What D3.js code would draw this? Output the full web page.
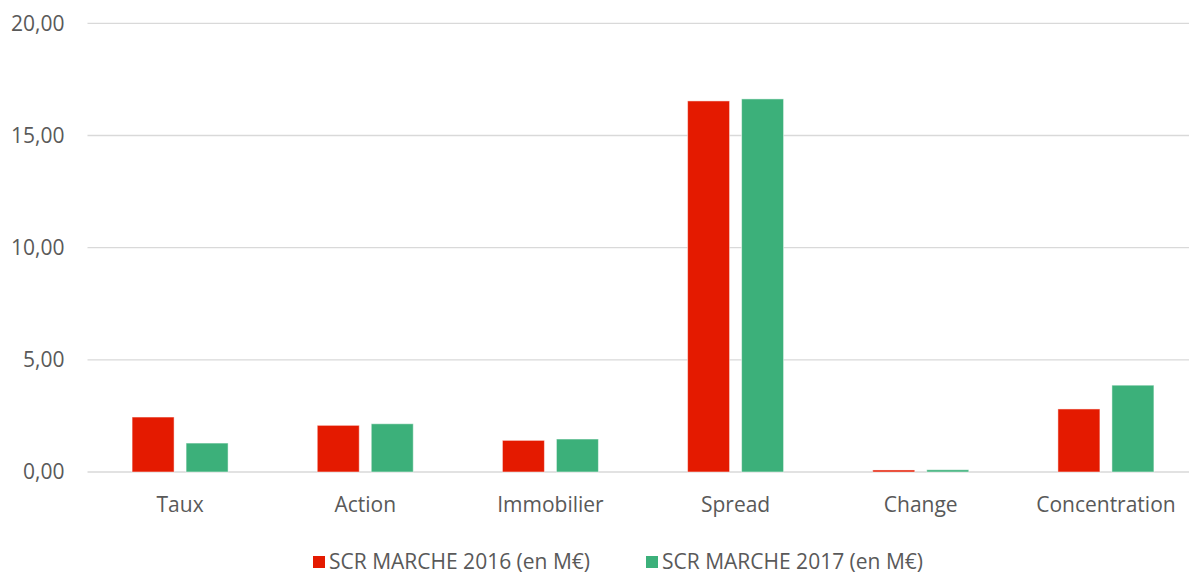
<!DOCTYPE html>
<html>
<head>
<meta charset="utf-8">
<script src="https://cdn.jsdelivr.net/npm/d3@7"></script>
<style>
  body { margin: 0; background: #fff; }
  text { font-family: "Open Sans", "Noto Sans", sans-serif; fill: #595959; }
</style>
</head>
<body>
<div id="chart"></div>
<script>
// SCR marché par sous-module

var categories = ["Taux", "Action", "Immobilier", "Spread", "Change", "Concentration"];
var series = ["SCR MARCHE 2016 (en M€)", "SCR MARCHE 2017 (en M€)"];
var values2016 = [2.45, 2.08, 1.41, 16.54, 0.09, 2.81];
var values2017 = [1.29, 2.15, 1.47, 16.63, 0.10, 3.87];
var yTicks = [0, 5, 10, 15, 20];
var colors = ["#E41A00", "#3CB07A"];

var width = 1189, height = 574;
var margin = { left: 87.5, right: -9.5, top: 23.3, bottom: 102 };

var svg = d3.select("#chart")
    .append("svg")
    .attr("width", width)
    .attr("height", height);

var innerW = width - margin.left - margin.right,
    innerH = height - margin.top - margin.bottom;

var xScale = d3.scaleBand()
    .domain(categories)
    .range([0, innerW]);

var yScale = d3.scaleLinear()
    .domain([0, 20])
    .range([innerH, 0]);

var g = svg.append("g")
    .attr("transform", "translate(" + margin.left + "," + margin.top + ")");

// gridlines
g.selectAll(".grid")
    .data(yTicks)
    .enter().append("line")
    .attr("x1", 0)
    .attr("x2", innerW)
    .attr("y1", function (d) { return yScale(d); })
    .attr("y2", function (d) { return yScale(d); })
    .attr("stroke", "#d9d9d9")
    .attr("stroke-width", 1.3);

// y labels
g.selectAll(".ylab")
    .data(yTicks)
    .enter().append("text")
    .attr("x", -23)
    .attr("y", function (d) { return yScale(d); })
    .attr("dy", "0.35em")
    .attr("text-anchor", "end")
    .style("font-size", "21px")
    .text(function (d) { return d3.format(".2f")(d).replace(".", ","); });

// bars
var barW = 42, gap = 12;
var allSeries = [values2016, values2017];
allSeries.forEach(function (vals, si) {
    g.selectAll(".bar" + si)
        .data(vals)
        .enter().append("rect")
        .attr("x", function (d, i) {
            var c = xScale(categories[i]) + xScale.bandwidth() / 2;
            return si === 0 ? c - gap / 2 - barW : c + gap / 2;
        })
        .attr("y", function (d) { return yScale(d); })
        .attr("width", barW)
        .attr("height", function (d) { return innerH - yScale(d); })
        .attr("fill", colors[si])
        .attr("stroke", "#ffffff")
        .attr("stroke-opacity", 0.5)
        .attr("stroke-width", 1);
});

// category labels
g.selectAll(".xlab")
    .data(categories)
    .enter().append("text")
    .attr("x", function (d) { return xScale(d) + xScale.bandwidth() / 2; })
    .attr("y", innerH + 40)
    .attr("text-anchor", "middle")
    .style("font-size", "21px")
    .text(function (d) { return d; });

// legend
var legendX = [313, 646];
var legend = svg.selectAll(".legend")
    .data(series)
    .enter().append("g")
    .attr("transform", function (d, i) { return "translate(" + legendX[i] + ",556)"; });

legend.append("rect")
    .attr("width", 12)
    .attr("height", 12)
    .attr("fill", function (d, i) { return colors[i]; });

legend.append("text")
    .attr("x", 16)
    .attr("y", 6)
    .attr("dy", "0.35em")
    .style("font-size", "21px")
    .text(function (d) { return d; });
</script>
</body>
</html>
